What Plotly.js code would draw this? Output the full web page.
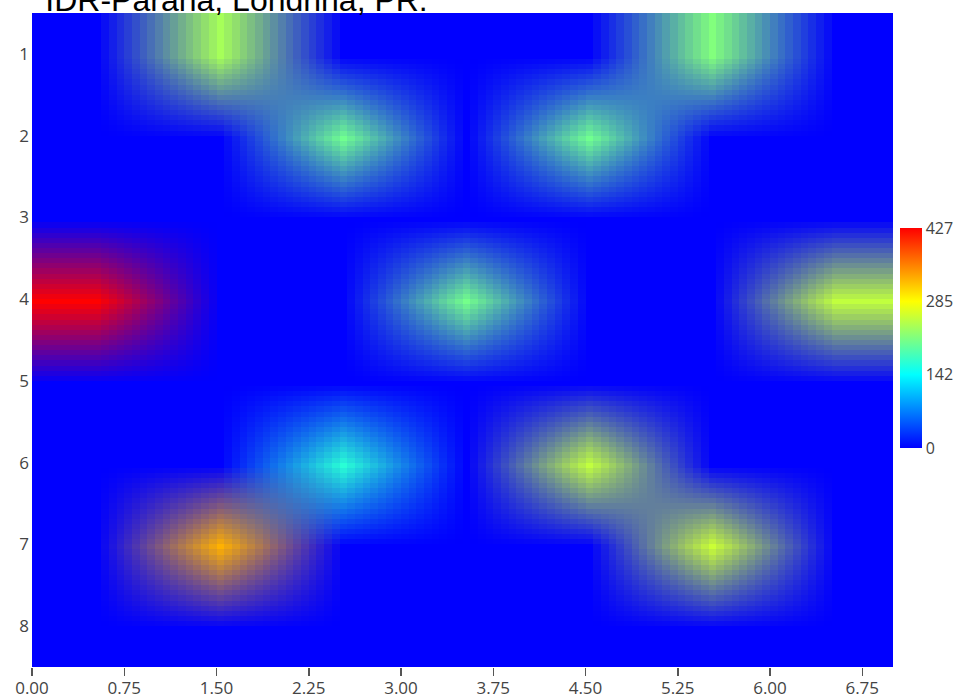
<!DOCTYPE html>
<html>
<head>
<meta charset="utf-8">
<script src="https://cdn.plot.ly/plotly-3.0.1.min.js"></script>
<style>
  html, body { margin: 0; padding: 0; background: #fff; }
  #chart { width: 965px; height: 700px; }
  .heatmaplayer image { image-rendering: auto !important; }
</style>
</head>
<body>
<div id="chart"></div>
<script>
// Column centres (x) and row centres (y)
var xCenters = [0.5, 1.5, 2.5, 3.5, 4.5, 5.5, 6.5];
var yRows = [1, 2, 3, 4, 5, 6, 7, 8];

// Values per row (row 1 .. row 8), one per column
var row1 = [0, 235, 0, 0, 0, 215, 0];
var row2 = [0, 0, 205, 0, 205, 0, 0];
var row3 = [0, 0, 0, 0, 0, 0, 0];
var row4 = [427, 0, 0, 207, 0, 0, 250];
var row5 = [0, 0, 0, 0, 0, 0, 0];
var row6 = [0, 0, 165, 0, 250, 0, 0];
var row7 = [0, 328, 0, 0, 0, 255, 0];
var row8 = [0, 0, 0, 0, 0, 0, 0];

var xTickVals = [0, 0.75, 1.5, 2.25, 3, 3.75, 4.5, 5.25, 6, 6.75];
var xTickText = ['0.00', '0.75', '1.50', '2.25', '3.00', '3.75', '4.50', '5.25', '6.00', '6.75'];
var yTickVals = [1, 2, 3, 4, 5, 6, 7, 8];
var cbTickVals = [0, 142, 285, 427];
var cbTickText = ['0', '142', '285', '427'];
var titleText = 'IDR-Paraná, Londrina, PR.';

var z = [row1, row2, row3, row4, row5, row6, row7, row8];

var trace = {
  type: 'heatmap',
  x: xCenters,
  y: yRows,
  z: z,
  zmin: 0,
  zmax: 427,
  zsmooth: 'fast',
  colorscale: [
    [0, 'rgb(0,0,255)'],
    [1/3, 'rgb(0,255,255)'],
    [2/3, 'rgb(255,255,0)'],
    [1, 'rgb(255,0,0)']
  ],
  colorbar: {
    x: 1.008, xanchor: 'left', xpad: 0,
    y: 0.503, yanchor: 'middle', ypad: 0,
    len: 220, lenmode: 'pixels',
    thickness: 22,
    outlinewidth: 0,
    ticks: '',
    tickvals: cbTickVals,
    ticktext: cbTickText,
    tickfont: { family: 'Open Sans, sans-serif', size: 16, color: '#444' }
  },
  hoverinfo: 'skip'
};

var layout = {
  width: 965,
  height: 700,
  margin: { l: 32, r: 72, t: 13, b: 33, pad: 0 },
  paper_bgcolor: '#ffffff',
  plot_bgcolor: '#ffffff',
  title: {
    text: titleText,
    xref: 'container', x: 0.047, xanchor: 'left',
    yref: 'container', y: 1, yanchor: 'middle',
    font: { family: 'Liberation Sans, Arial, sans-serif', size: 32, color: '#000' }
  },
  xaxis: {
    range: [0, 7],
    tickmode: 'array',
    tickvals: xTickVals,
    ticktext: xTickText,
    ticks: 'outside', ticklen: 8, tickwidth: 1.5, tickcolor: '#555',
    ticklabelstandoff: -2,
    showgrid: false, zeroline: false, showline: false,
    tickfont: { family: 'Open Sans, sans-serif', size: 17, color: '#444' }
  },
  yaxis: {
    range: [8.5, 0.5],
    tickmode: 'array',
    tickvals: yTickVals,
    ticks: '',
    ticklabelstandoff: 2,
    showgrid: false, zeroline: false, showline: false,
    tickfont: { family: 'Open Sans, sans-serif', size: 17, color: '#444' }
  }
};

Plotly.newPlot('chart', [trace], layout, { displayModeBar: false, staticPlot: true });
</script>
</body>
</html>
